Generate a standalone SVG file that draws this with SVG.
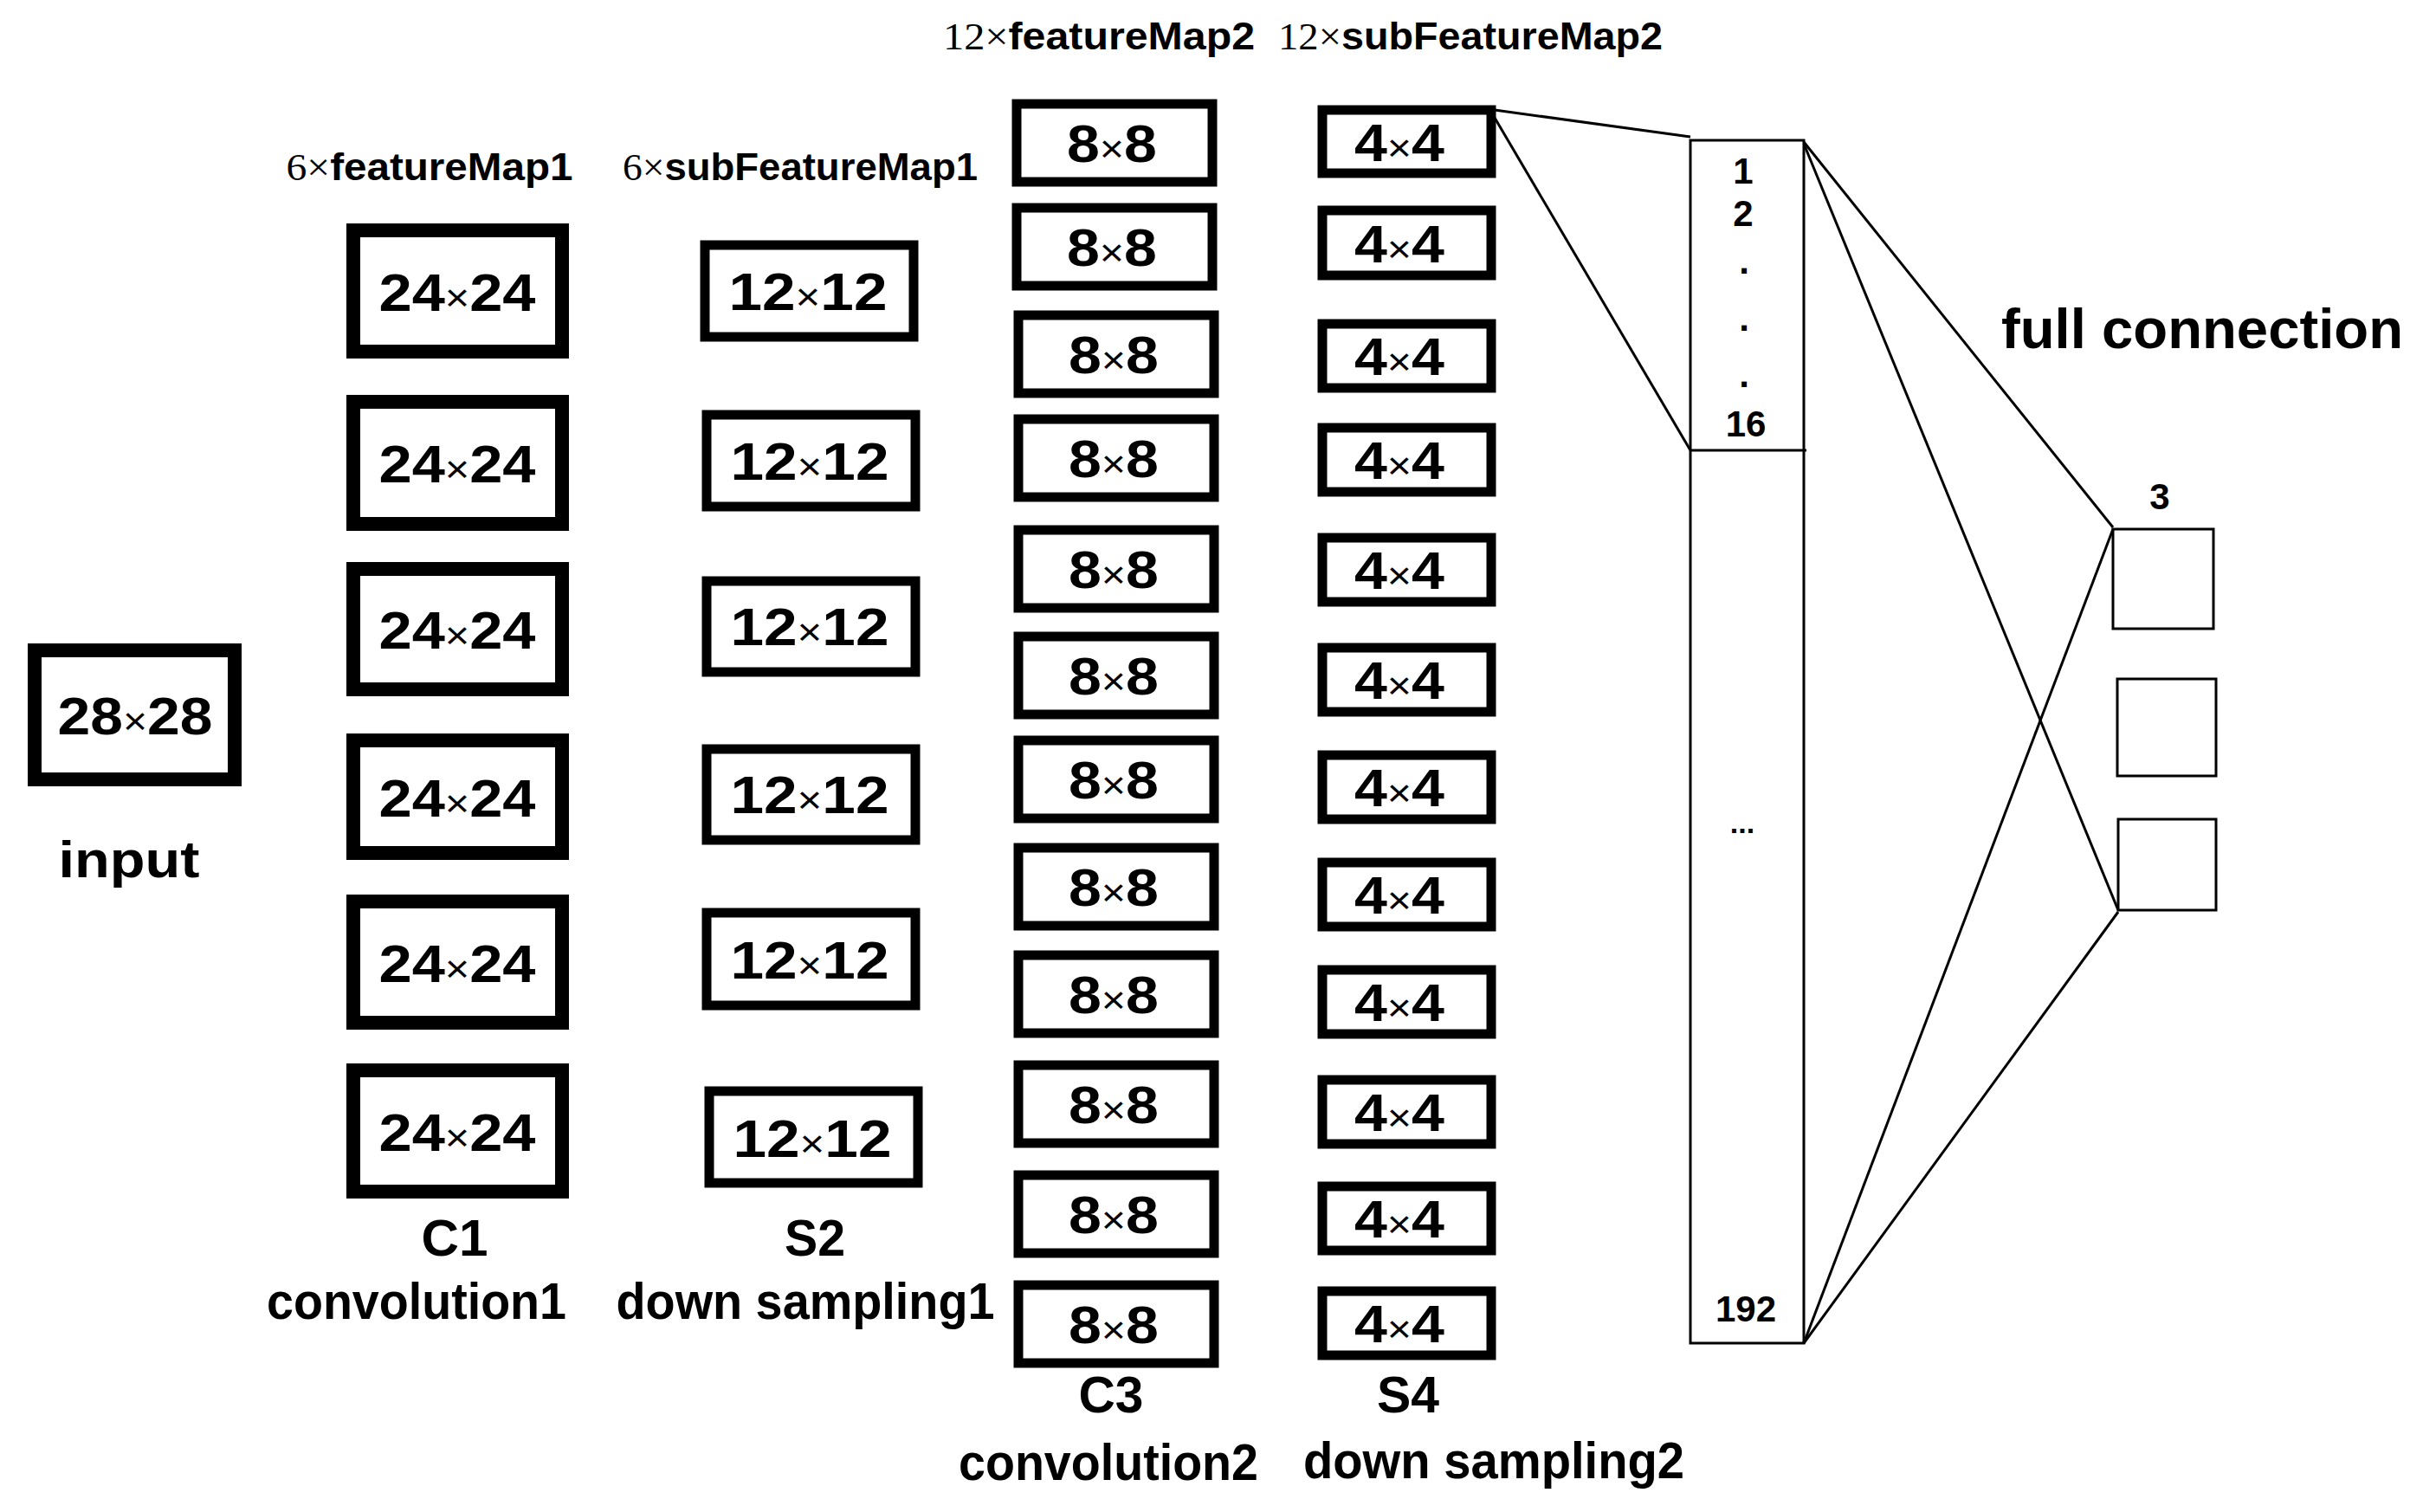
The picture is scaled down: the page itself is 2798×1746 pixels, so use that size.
<svg xmlns="http://www.w3.org/2000/svg" width="2798" height="1746" viewBox="0 0 2798 1746">
<style>
text{font-family:"Liberation Sans",Arial,sans-serif;font-weight:bold;fill:#000;text-anchor:middle}
.d{font-size:62px}
.x{font-size:44px;font-weight:normal}
.lab{font-size:60px}
.t{font-size:44px}
.s{font-family:"Liberation Serif",serif;font-weight:normal}
.n{font-size:42px}
.c1{fill:#fff;stroke:#000;stroke-width:16}
.s2{fill:#fff;stroke:#000;stroke-width:11}
.c3{fill:#fff;stroke:#000;stroke-width:11}
.th{fill:#fff;stroke:#000;stroke-width:3}
line{stroke:#000;stroke-width:3}
</style>
<rect width="2798" height="1746" fill="#fff"/>
<g id="titles">
<text class="t" x="496" y="208" textLength="331" lengthAdjust="spacingAndGlyphs"><tspan class="s">6×</tspan>featureMap1</text>
<text class="t" x="924" y="208" textLength="410" lengthAdjust="spacingAndGlyphs"><tspan class="s">6×</tspan>subFeatureMap1</text>
<text class="t" x="1269" y="57" textLength="360" lengthAdjust="spacingAndGlyphs"><tspan class="s">12×</tspan>featureMap2</text>
<text class="t" x="1698" y="57" textLength="444" lengthAdjust="spacingAndGlyphs"><tspan class="s">12×</tspan>subFeatureMap2</text>
</g>
<g id="input">
<rect class="c1" x="40" y="751" width="231" height="149"/>
<text class="d" x="156" y="848" textLength="179" lengthAdjust="spacingAndGlyphs">28<tspan class="x">×</tspan>28</text>
<text class="lab" x="149" y="1013" textLength="163" lengthAdjust="spacingAndGlyphs">input</text>
</g>
<g id="C1">
<rect class="c1" x="408" y="266" width="241" height="140"/>
<rect class="c1" x="408" y="464" width="241" height="141"/>
<rect class="c1" x="408" y="657" width="241" height="139"/>
<rect class="c1" x="408" y="855" width="241" height="130"/>
<rect class="c1" x="408" y="1041" width="241" height="140"/>
<rect class="c1" x="408" y="1236" width="241" height="140"/>
<g class="d">
<text x="528" y="359" textLength="181" lengthAdjust="spacingAndGlyphs">24<tspan class="x">×</tspan>24</text>
<text x="528" y="557" textLength="181" lengthAdjust="spacingAndGlyphs">24<tspan class="x">×</tspan>24</text>
<text x="528" y="749" textLength="181" lengthAdjust="spacingAndGlyphs">24<tspan class="x">×</tspan>24</text>
<text x="528" y="943" textLength="181" lengthAdjust="spacingAndGlyphs">24<tspan class="x">×</tspan>24</text>
<text x="528" y="1134" textLength="181" lengthAdjust="spacingAndGlyphs">24<tspan class="x">×</tspan>24</text>
<text x="528" y="1329" textLength="181" lengthAdjust="spacingAndGlyphs">24<tspan class="x">×</tspan>24</text>
</g>
<text class="lab" x="525" y="1450" textLength="77" lengthAdjust="spacingAndGlyphs">C1</text>
<text class="lab" x="481" y="1523" textLength="346" lengthAdjust="spacingAndGlyphs">convolution1</text>
</g>
<g id="S2">
<rect class="s2" x="814" y="283" width="241" height="106"/>
<rect class="s2" x="816" y="479" width="241" height="106"/>
<rect class="s2" x="816" y="671" width="241" height="105"/>
<rect class="s2" x="816" y="865" width="241" height="105"/>
<rect class="s2" x="816" y="1054" width="241" height="107"/>
<rect class="s2" x="819" y="1260" width="241" height="106"/>
<g class="d">
<text x="933" y="358" textLength="183" lengthAdjust="spacingAndGlyphs">12<tspan class="x">×</tspan>12</text>
<text x="935" y="554" textLength="183" lengthAdjust="spacingAndGlyphs">12<tspan class="x">×</tspan>12</text>
<text x="935" y="745" textLength="183" lengthAdjust="spacingAndGlyphs">12<tspan class="x">×</tspan>12</text>
<text x="935" y="939" textLength="183" lengthAdjust="spacingAndGlyphs">12<tspan class="x">×</tspan>12</text>
<text x="935" y="1130" textLength="183" lengthAdjust="spacingAndGlyphs">12<tspan class="x">×</tspan>12</text>
<text x="938" y="1336" textLength="183" lengthAdjust="spacingAndGlyphs">12<tspan class="x">×</tspan>12</text>
</g>
<text class="lab" x="941" y="1450" textLength="70" lengthAdjust="spacingAndGlyphs">S2</text>
<text class="lab" x="930" y="1523" textLength="437" lengthAdjust="spacingAndGlyphs">down sampling1</text>
</g>
<g id="C3">
<rect class="c3" x="1174" y="120" width="226" height="90"/>
<rect class="c3" x="1174" y="240" width="226" height="90"/>
<rect class="c3" x="1176" y="364" width="226" height="90"/>
<rect class="c3" x="1176" y="484" width="226" height="90"/>
<rect class="c3" x="1176" y="612" width="226" height="90"/>
<rect class="c3" x="1176" y="735" width="226" height="90"/>
<rect class="c3" x="1176" y="855" width="226" height="90"/>
<rect class="c3" x="1176" y="979" width="226" height="90"/>
<rect class="c3" x="1176" y="1103" width="226" height="90"/>
<rect class="c3" x="1176" y="1230" width="226" height="90"/>
<rect class="c3" x="1176" y="1357" width="226" height="90"/>
<rect class="c3" x="1176" y="1484" width="226" height="90"/>
<g class="d">
<text x="1284" y="187" textLength="104" lengthAdjust="spacingAndGlyphs">8<tspan class="x">×</tspan>8</text>
<text x="1284" y="307" textLength="104" lengthAdjust="spacingAndGlyphs">8<tspan class="x">×</tspan>8</text>
<text x="1286" y="431" textLength="104" lengthAdjust="spacingAndGlyphs">8<tspan class="x">×</tspan>8</text>
<text x="1286" y="551" textLength="104" lengthAdjust="spacingAndGlyphs">8<tspan class="x">×</tspan>8</text>
<text x="1286" y="679" textLength="104" lengthAdjust="spacingAndGlyphs">8<tspan class="x">×</tspan>8</text>
<text x="1286" y="802" textLength="104" lengthAdjust="spacingAndGlyphs">8<tspan class="x">×</tspan>8</text>
<text x="1286" y="922" textLength="104" lengthAdjust="spacingAndGlyphs">8<tspan class="x">×</tspan>8</text>
<text x="1286" y="1046" textLength="104" lengthAdjust="spacingAndGlyphs">8<tspan class="x">×</tspan>8</text>
<text x="1286" y="1170" textLength="104" lengthAdjust="spacingAndGlyphs">8<tspan class="x">×</tspan>8</text>
<text x="1286" y="1297" textLength="104" lengthAdjust="spacingAndGlyphs">8<tspan class="x">×</tspan>8</text>
<text x="1286" y="1424" textLength="104" lengthAdjust="spacingAndGlyphs">8<tspan class="x">×</tspan>8</text>
<text x="1286" y="1551" textLength="104" lengthAdjust="spacingAndGlyphs">8<tspan class="x">×</tspan>8</text>
</g>
<text class="lab" x="1283" y="1631" textLength="75" lengthAdjust="spacingAndGlyphs">C3</text>
<text class="lab" x="1280" y="1709" textLength="346" lengthAdjust="spacingAndGlyphs">convolution2</text>
</g>
<g id="S4">
<rect class="s2" x="1527" y="127" width="195" height="73"/>
<rect class="s2" x="1527" y="243" width="195" height="75"/>
<rect class="s2" x="1527" y="374" width="195" height="74"/>
<rect class="s2" x="1527" y="494" width="195" height="74"/>
<rect class="s2" x="1527" y="621" width="195" height="74"/>
<rect class="s2" x="1527" y="748" width="195" height="74"/>
<rect class="s2" x="1527" y="872" width="195" height="74"/>
<rect class="s2" x="1527" y="996" width="195" height="74"/>
<rect class="s2" x="1527" y="1120" width="195" height="74"/>
<rect class="s2" x="1527" y="1247" width="195" height="74"/>
<rect class="s2" x="1527" y="1370" width="195" height="74"/>
<rect class="s2" x="1527" y="1491" width="195" height="74"/>
<g class="d">
<text x="1616" y="186" textLength="104" lengthAdjust="spacingAndGlyphs">4<tspan class="x">×</tspan>4</text>
<text x="1616" y="303" textLength="104" lengthAdjust="spacingAndGlyphs">4<tspan class="x">×</tspan>4</text>
<text x="1616" y="433" textLength="104" lengthAdjust="spacingAndGlyphs">4<tspan class="x">×</tspan>4</text>
<text x="1616" y="553" textLength="104" lengthAdjust="spacingAndGlyphs">4<tspan class="x">×</tspan>4</text>
<text x="1616" y="680" textLength="104" lengthAdjust="spacingAndGlyphs">4<tspan class="x">×</tspan>4</text>
<text x="1616" y="807" textLength="104" lengthAdjust="spacingAndGlyphs">4<tspan class="x">×</tspan>4</text>
<text x="1616" y="931" textLength="104" lengthAdjust="spacingAndGlyphs">4<tspan class="x">×</tspan>4</text>
<text x="1616" y="1055" textLength="104" lengthAdjust="spacingAndGlyphs">4<tspan class="x">×</tspan>4</text>
<text x="1616" y="1179" textLength="104" lengthAdjust="spacingAndGlyphs">4<tspan class="x">×</tspan>4</text>
<text x="1616" y="1306" textLength="104" lengthAdjust="spacingAndGlyphs">4<tspan class="x">×</tspan>4</text>
<text x="1616" y="1429" textLength="104" lengthAdjust="spacingAndGlyphs">4<tspan class="x">×</tspan>4</text>
<text x="1616" y="1550" textLength="104" lengthAdjust="spacingAndGlyphs">4<tspan class="x">×</tspan>4</text>
</g>
<text class="lab" x="1626" y="1631" textLength="72" lengthAdjust="spacingAndGlyphs">S4</text>
<text class="lab" x="1725" y="1707" textLength="440" lengthAdjust="spacingAndGlyphs">down sampling2</text>
</g>
<g id="vector">
<rect class="th" x="1952" y="162" width="131" height="1389"/>
<line x1="1952" y1="520" x2="2086" y2="520"/>
<g class="n">
<text x="2013" y="212">1</text>
<text x="2013" y="261">2</text>
<text x="2014" y="316">.</text>
<text x="2014" y="382">.</text>
<text x="2014" y="447">.</text>
<text x="2016" y="504">16</text>
<text x="2012" y="962" style="font-size:34px">...</text>
<text x="2016" y="1526">192</text>
</g>
</g>
<g id="output">
<rect class="th" x="2440" y="611" width="116" height="115"/>
<rect class="th" x="2445" y="784" width="114" height="112"/>
<rect class="th" x="2446" y="946" width="113" height="105"/>
<text class="n" x="2494" y="588">3</text>
<text x="2543" y="402" style="font-size:64px" textLength="464" lengthAdjust="spacingAndGlyphs">full connection</text>
</g>
<g id="connectors">
<line x1="1726" y1="127" x2="1952" y2="158"/>
<line x1="1726" y1="136" x2="1952" y2="520"/>
<line x1="2083" y1="164" x2="2440" y2="609"/>
<line x1="2083" y1="166" x2="2446" y2="1051"/>
<line x1="2083" y1="1551" x2="2440" y2="611"/>
<line x1="2083" y1="1551" x2="2446" y2="1053"/>
</g>
</svg>
